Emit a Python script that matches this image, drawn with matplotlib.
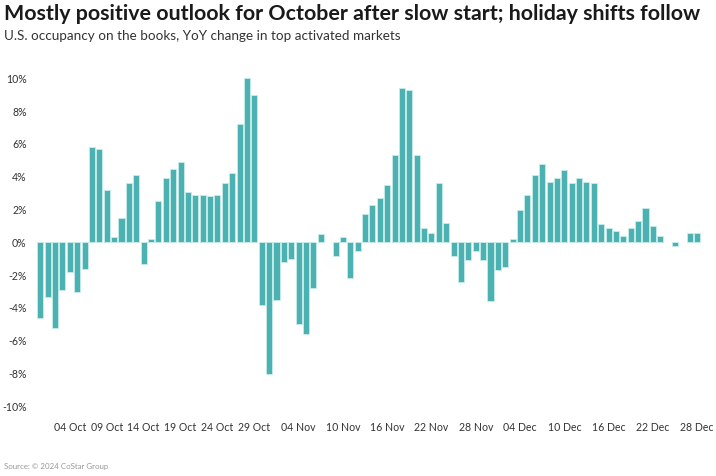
import matplotlib
matplotlib.use("Agg")
import matplotlib.pyplot as plt
import pandas as pd

plt.rcParams['font.family'] = ['Lato', 'DejaVu Sans']

# daily YoY change in occupancy on the books (%), None = no data
dates = pd.date_range("2024-09-30", "2024-12-28", freq="D")
oct_vals = [-4.6, -3.3, -5.2, -2.9, -1.8, -3.0, -1.6, 5.8, 5.7, 3.2, 0.3, 1.5, 3.6, 4.1,
            -1.3, 0.2, 2.5, 3.9, 4.5, 4.9, 3.1, 2.9, 2.9, 2.8, 2.9, 3.6, 4.2, 7.2, 10.0,
            9.0, -3.8, -8.0]
nov_vals = [-3.5, -1.2, -1.0, -5.0, -5.6, -2.8, 0.5, None, -0.8, 0.3, -2.2, -0.5, 1.7,
            2.3, 2.7, 3.5, 5.3, 9.4, 9.3, 5.3, 0.9, 0.6, 3.6, 1.2, -0.8, -2.4, -1.1,
            -0.5, -1.1, -3.6]
dec_vals = [-1.7, -1.5, 0.2, 2.0, 2.9, 4.1, 4.8, 3.7, 3.9, 4.4, 3.6, 3.9, 3.7, 3.6,
            1.1, 0.9, 0.7, 0.4, 0.9, 1.3, 2.1, 1.0, 0.4, None, -0.2, None, 0.6, 0.6]
values = oct_vals + nov_vals + dec_vals

tick_labels = ["04 Oct", "09 Oct", "14 Oct", "19 Oct", "24 Oct", "29 Oct", "04 Nov",
               "10 Nov", "16 Nov", "22 Nov", "28 Nov", "04 Dec", "10 Dec", "16 Dec",
               "22 Dec", "28 Dec"]
y_ticks = [-10, -8, -6, -4, -2, 0, 2, 4, 6, 8, 10]

title = "Mostly positive outlook for October after slow start; holiday shifts follow"
subtitle = "U.S. occupancy on the books, YoY change in top activated markets"
source = "Source: \u00a9 2024 CoStar Group"


def main():
    fig = plt.figure(figsize=(7.16, 4.76), dpi=100)
    ax = fig.add_axes([0.046, 0.129, 0.938, 0.7236])

    x = [d for d, v in zip(dates, values) if v is not None]
    y = [v for v in values if v is not None]
    ax.bar(x, y, width=0.82, color="#4bb1b1", edgecolor="#c8ecec", linewidth=0.6)

    ax.set_xlim(dates[0] - pd.Timedelta(days=1), dates[-1] + pd.Timedelta(days=1))
    ax.set_ylim(-10.5, 10.5)

    ticks = [pd.Timestamp(lbl + " 2024") for lbl in tick_labels]
    ax.set_xticks(ticks)
    ax.set_xticklabels(tick_labels)
    ax.set_yticks(y_ticks)
    ax.set_yticklabels([str(t) + "%" for t in y_ticks])
    ax.tick_params(axis="both", length=0, labelsize=7.6, colors="#333333")
    ax.tick_params(axis="y", pad=4.5)
    ax.tick_params(axis="x", pad=5)

    for s in ax.spines.values():
        s.set_visible(False)

    fig.text(0.006, 0.971, title, fontsize=15.4, fontweight="bold", color="#1a1a1a",
             va="center", ha="left")
    fig.text(0.006, 0.924, subtitle, fontsize=9.7, color="#333333", va="center", ha="left")
    fig.text(0.006, 0.019, source, fontsize=5.7, color="#999999", va="center", ha="left")

    fig.savefig("out.png", dpi=100)


if __name__ == "__main__":
    main()
